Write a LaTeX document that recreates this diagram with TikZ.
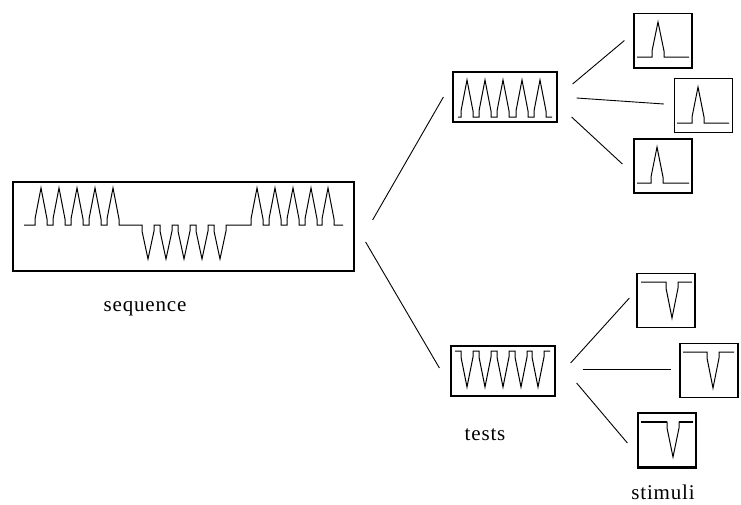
\documentclass[tikz,border=0pt]{standalone}
\usepackage{fontspec}
\setmainfont{Liberation Serif}
\newfontfamily\tagfont[LetterSpace=4]{Liberation Serif}
\usetikzlibrary{positioning}

% one bump up / down per centre, on baseline #1, tip at #2
\newcommand{\upbumps}[3]{\foreach \c in {#3}{ -- (\c-6,#1) -- (\c-6,#1-6) -- (\c,#2) -- (\c+6,#1-6) -- (\c+6,#1)}}
\newcommand{\dnbumps}[3]{\foreach \c in {#3}{ -- (\c-6,#1) -- (\c-6,#1+6) -- (\c,#2) -- (\c+6,#1+6) -- (\c+6,#1)}}

\begin{document}
\begin{tikzpicture}[
  x=1pt, y=-1pt,
  frame/.style={draw, line width=1.2pt, inner sep=0pt},
  testbox/.style={frame, minimum width=104pt, minimum height=50pt},
  stimbox/.style={frame, minimum width=58pt, minimum height=54pt},
  wave/.style={line width=1pt, line join=miter},
  link/.style={line width=0.9pt},
  tag/.style={font=\tagfont\fontsize{21}{24}\selectfont, anchor=base, inner sep=0pt}
]
\useasboundingbox (0,0) rectangle (741,504);

% Sequence
\node[frame, minimum width=341pt, minimum height=89pt] (seq) at (183.5,226.5) {};
\draw[wave] (24,225) \upbumps{225}{188}{41,59,77,95,113} \dnbumps{225}{259}{148,166,184,202,220}
  \upbumps{225}{188}{257,275,293,311,328} -- (343,225);
\node[tag] (seqlbl) at (145,311) {sequence};

% Tests
\node[testbox] (testA) at (505,97) {};
\draw[wave] (458,117) \upbumps{117}{80}{467,485,503,522,540} -- (552,117);
\node[testbox] (testB) at (503,371) {};
\draw[wave] (455,351) \dnbumps{351}{387}{467,485,503,521,538} -- (550,351);
\node[tag] (testlbl) at (485,440) {tests};

% Stimuli
\node[stimbox] (stim1) at (663,40.5) {};
\draw[wave] (637,57) \upbumps{57}{22}{658} -- (689,57);
\node[stimbox] (stim2) at (703.5,105.5) {};
\draw[wave] (677,123) \upbumps{123}{87}{698} -- (729,123);
\node[stimbox] (stim3) at (663,166) {};
\draw[wave] (637,183) \upbumps{183}{147}{657} -- (689,183);
\node[stimbox] (stim4) at (666,300.5) {};
\draw[wave] (641,282) \dnbumps{282}{318}{672} -- (692,282);
\node[stimbox] (stim5) at (709,370.5) {};
\draw[wave] (683,352) \dnbumps{352}{388}{713} -- (734,352);
\node[stimbox] (stim6) at (667,440) {};
\draw[wave] (641,422) \dnbumps{422}{457}{673} -- (693,422);
\draw[line width=2.4pt] (641,422) -- (667,422) (679,422) -- (693,422);
\draw[line width=2.6pt] (stim1.south west) -- (stim1.south east);
\draw[line width=2.6pt] (stim6.south west) -- (stim6.south east);
\node[tag] (stimlbl) at (663,499) {stimuli};

% Links
\draw[link] ([shift={(18,-6.5)}]seq.east) -- ([shift={(-9,0)}]testA.west);
\draw[link] ([shift={(11,15.5)}]seq.east) -- ([shift={(-11,-3)}]testB.west);
\draw[link] ([shift={(15,-13)}]testA.east) -- ([shift={(-9,0)}]stim1.west);
\draw[link] ([shift={(19,1)}]testA.east) -- ([shift={(-10,-1.5)}]stim2.west);
\draw[link] ([shift={(14,20)}]testA.east) -- ([shift={(-11,-2)}]stim3.west);
\draw[link] ([shift={(15,-8)}]testB.east) -- ([shift={(-7,-2.5)}]stim4.west);
\draw[link] ([shift={(27,-2)}]testB.east) -- ([shift={(-8,-1.5)}]stim5.west);
\draw[link] ([shift={(21,12)}]testB.east) -- ([shift={(-10,3)}]stim6.west);
\end{tikzpicture}
\end{document}
